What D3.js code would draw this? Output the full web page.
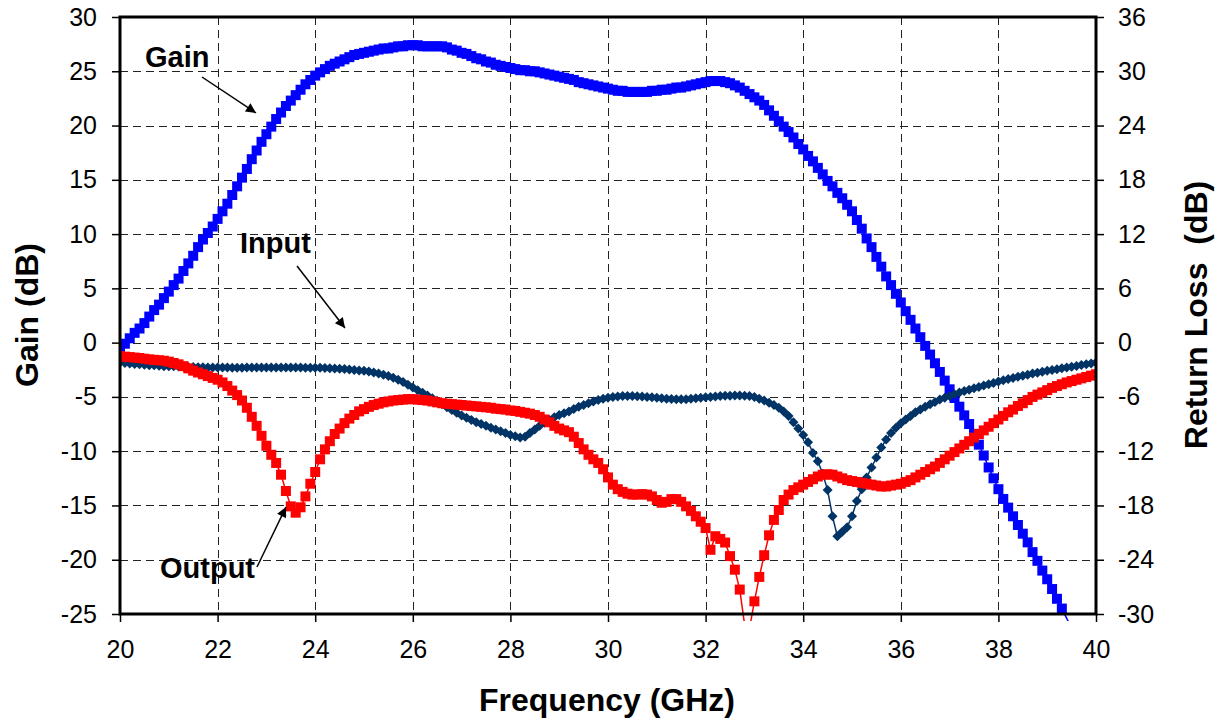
<!DOCTYPE html>
<html lang="en">
<head>
<meta charset="UTF-8">
<title>Gain and Return Loss vs Frequency</title>
<style>
    body { margin: 0; background: #fff; }
    svg { display: block; font-family: "Liberation Sans", Arial, sans-serif; }
    .tick text { font-size: 25px; fill: #000; }
    .title { font-size: 32px; font-weight: bold; white-space: pre; }
    .note { font-size: 29px; font-weight: bold; }
</style>
</head>
<body>
<svg width="1219" height="723"></svg>
<script src="https://d3js.org/d3.v7.min.js"></script>
<script>
// frequency points (GHz)
const freq = [
    20.0, 20.1, 20.2, 20.3, 20.4, 20.5, 20.6, 20.7, 20.8, 20.9,
    21.0, 21.1, 21.2, 21.3, 21.4, 21.5, 21.6, 21.7, 21.8, 21.9,
    22.0, 22.1, 22.2, 22.3, 22.4, 22.5, 22.6, 22.7, 22.8, 22.9,
    23.0, 23.1, 23.2, 23.3, 23.4, 23.5, 23.6, 23.7, 23.8, 23.9,
    24.0, 24.1, 24.2, 24.3, 24.4, 24.5, 24.6, 24.7, 24.8, 24.9,
    25.0, 25.1, 25.2, 25.3, 25.4, 25.5, 25.6, 25.7, 25.8, 25.9,
    26.0, 26.1, 26.2, 26.3, 26.4, 26.5, 26.6, 26.7, 26.8, 26.9,
    27.0, 27.1, 27.2, 27.3, 27.4, 27.5, 27.6, 27.7, 27.8, 27.9,
    28.0, 28.1, 28.2, 28.3, 28.4, 28.5, 28.6, 28.7, 28.8, 28.9,
    29.0, 29.1, 29.2, 29.3, 29.4, 29.5, 29.6, 29.7, 29.8, 29.9,
    30.0, 30.1, 30.2, 30.3, 30.4, 30.5, 30.6, 30.7, 30.8, 30.9,
    31.0, 31.1, 31.2, 31.3, 31.4, 31.5, 31.6, 31.7, 31.8, 31.9,
    32.0, 32.1, 32.2, 32.3, 32.4, 32.5, 32.6, 32.7, 32.8, 32.9,
    33.0, 33.1, 33.2, 33.3, 33.4, 33.5, 33.6, 33.7, 33.8, 33.9,
    34.0, 34.1, 34.2, 34.3, 34.4, 34.5, 34.6, 34.7, 34.8, 34.9,
    35.0, 35.1, 35.2, 35.3, 35.4, 35.5, 35.6, 35.7, 35.8, 35.9,
    36.0, 36.1, 36.2, 36.3, 36.4, 36.5, 36.6, 36.7, 36.8, 36.9,
    37.0, 37.1, 37.2, 37.3, 37.4, 37.5, 37.6, 37.7, 37.8, 37.9,
    38.0, 38.1, 38.2, 38.3, 38.4, 38.5, 38.6, 38.7, 38.8, 38.9,
    39.0, 39.1, 39.2, 39.3, 39.4, 39.5, 39.6, 39.7, 39.8, 39.9,
    40.0
];

// gain, dB (left axis)
const gain = [
    -0.6, -0.1, 0.4, 0.9, 1.3, 1.8, 2.4, 3.0, 3.5, 4.1,
    4.7, 5.3, 5.9, 6.6, 7.3, 8.0, 8.8, 9.5, 10.1, 10.7,
    11.4, 12.1, 12.8, 13.6, 14.4, 15.2, 16.0, 16.9, 17.7, 18.5,
    19.2, 19.9, 20.6, 21.2, 21.8, 22.3, 22.8, 23.3, 23.8, 24.2,
    24.6, 24.9, 25.2, 25.5, 25.7, 25.9, 26.1, 26.3, 26.5, 26.6,
    26.7, 26.8, 26.9, 27.0, 27.1, 27.1, 27.2, 27.3, 27.3, 27.4,
    27.4, 27.4, 27.3, 27.3, 27.3, 27.3, 27.3, 27.2, 27.0, 26.9,
    26.7, 26.6, 26.4, 26.2, 26.1, 25.9, 25.8, 25.6, 25.5, 25.4,
    25.3, 25.2, 25.1, 25.1, 25.0, 25.0, 24.9, 24.8, 24.7, 24.6,
    24.5, 24.4, 24.3, 24.2, 24.0, 23.9, 23.8, 23.7, 23.6, 23.5,
    23.4, 23.3, 23.2, 23.2, 23.1, 23.1, 23.1, 23.1, 23.1, 23.2,
    23.2, 23.3, 23.3, 23.4, 23.5, 23.5, 23.6, 23.7, 23.8, 23.9,
    24.0, 24.1, 24.1, 24.1, 24.0, 23.9, 23.7, 23.5, 23.2, 22.9,
    22.6, 22.3, 21.9, 21.4, 20.9, 20.4, 19.9, 19.4, 18.9, 18.3,
    17.8, 17.2, 16.7, 16.1, 15.5, 14.9, 14.4, 13.8, 13.3, 12.7,
    12.1, 11.3, 10.5, 9.6, 8.8, 7.9, 7.0, 6.1, 5.3, 4.5,
    3.7, 2.9, 2.1, 1.3, 0.5, -0.3, -1.1, -1.9, -2.7, -3.5,
    -4.3, -5.1, -5.9, -6.7, -7.5, -8.4, -9.4, -10.4, -11.5, -12.5,
    -13.5, -14.4, -15.2, -16.0, -16.8, -17.6, -18.4, -19.3, -20.1, -21.0,
    -21.8, -22.7, -23.6, -24.5, -25.4, -26.3, -27.2, -28.1, -29.0, -29.9,
    -30.8
];

// input return loss, dB (right axis)
const inputRL = [
    -2.2, -2.25, -2.3, -2.35, -2.4, -2.45, -2.5, -2.5, -2.55, -2.6,
    -2.6, -2.62, -2.65, -2.67, -2.7, -2.7, -2.72, -2.73, -2.75, -2.75,
    -2.75, -2.76, -2.76, -2.77, -2.77, -2.77, -2.76, -2.76, -2.75, -2.75,
    -2.75, -2.74, -2.74, -2.74, -2.75, -2.75, -2.76, -2.76, -2.77, -2.77,
    -2.77, -2.78, -2.8, -2.82, -2.85, -2.88, -2.92, -2.97, -3.02, -3.07,
    -3.12, -3.2, -3.3, -3.42, -3.55, -3.7, -3.88, -4.1, -4.35, -4.65,
    -4.95, -5.25, -5.55, -5.85, -6.15, -6.45, -6.8, -7.15, -7.45, -7.75,
    -8.05, -8.3, -8.55, -8.8, -9.0, -9.2, -9.4, -9.6, -9.8, -10.0,
    -10.2, -10.35, -10.5, -10.4, -10.0, -9.6, -9.2, -8.85, -8.55, -8.25,
    -8.0, -7.8, -7.6, -7.35, -7.1, -6.9, -6.7, -6.5, -6.35, -6.2,
    -6.1, -6.0, -5.95, -5.9, -5.9, -5.9, -5.92, -5.95, -6.0, -6.05,
    -6.1, -6.15, -6.2, -6.22, -6.25, -6.26, -6.25, -6.2, -6.15, -6.1,
    -6.05, -6.0, -5.95, -5.9, -5.88, -5.86, -5.85, -5.85, -5.87, -5.9,
    -6.0, -6.2, -6.4, -6.65, -6.9, -7.2, -7.6, -8.1, -8.8, -9.5,
    -10.2, -11.0, -12.2, -13.1, -14.5, -16.3, -19.2, -21.4, -20.9, -20.4,
    -19.2, -17.5, -16.2, -14.9, -13.8, -12.7, -11.6, -10.7, -10.0, -9.4,
    -8.9, -8.5, -8.1, -7.7, -7.4, -7.1, -6.8, -6.55, -6.3, -6.1,
    -5.9, -5.7, -5.5, -5.35, -5.2, -5.05, -4.9, -4.75, -4.6, -4.45,
    -4.3, -4.15, -4.02, -3.9, -3.78, -3.66, -3.54, -3.42, -3.32, -3.22,
    -3.12, -3.02, -2.93, -2.84, -2.75, -2.66, -2.57, -2.48, -2.39, -2.3,
    -2.2
];

// output return loss, dB (right axis)
const outputRL = [
    -1.5, -1.55, -1.6, -1.65, -1.7, -1.78, -1.85, -1.9, -1.95, -2.0,
    -2.1, -2.25, -2.4, -2.6, -2.85, -3.1, -3.3, -3.5, -3.7, -3.9,
    -4.1, -4.4, -4.8, -5.3, -5.8, -6.4, -7.2, -8.2, -9.2, -10.3,
    -11.4, -12.4, -13.3, -14.6, -16.4, -18.1, -18.8, -18.2, -17.0, -15.6,
    -14.3, -12.9, -11.8, -10.9, -10.1, -9.5, -8.9, -8.4, -8.0, -7.6,
    -7.35, -7.1, -6.9, -6.75, -6.6, -6.5, -6.4, -6.35, -6.3, -6.25,
    -6.25, -6.3, -6.35, -6.4, -6.5, -6.6, -6.7, -6.75, -6.8, -6.85,
    -6.9, -6.95, -7.0, -7.05, -7.1, -7.15, -7.2, -7.3, -7.35, -7.4,
    -7.5, -7.55, -7.65, -7.75, -7.85, -8.0, -8.2, -8.5, -8.8, -9.2,
    -9.5, -9.7, -9.9, -10.4, -11.1, -11.8, -12.4, -12.9, -13.3, -14.0,
    -14.9, -15.7, -16.2, -16.5, -16.7, -16.8, -16.8, -16.75, -16.8, -17.0,
    -17.4, -17.7, -17.6, -17.3, -17.3, -17.6, -18.1, -18.6, -19.2, -19.8,
    -20.5, -22.9, -21.4, -21.7, -22.1, -23.6, -25.1, -27.3, -31.2, -31.6,
    -28.6, -25.9, -23.5, -21.3, -19.6, -18.5, -17.4, -16.8, -16.3, -16.0,
    -15.7, -15.4, -15.1, -14.8, -14.6, -14.55, -14.6, -14.8, -15.0, -15.2,
    -15.3, -15.4, -15.5, -15.6, -15.7, -15.8, -15.9, -15.9, -15.8, -15.7,
    -15.6, -15.4, -15.2, -14.9, -14.6, -14.3, -14.0, -13.7, -13.3, -12.9,
    -12.5, -12.1, -11.7, -11.3, -10.9, -10.5, -10.1, -9.7, -9.3, -8.9,
    -8.5, -8.1, -7.7, -7.4, -7.0, -6.7, -6.35, -6.0, -5.75, -5.5,
    -5.25, -5.0, -4.8, -4.6, -4.4, -4.25, -4.1, -3.95, -3.8, -3.65,
    -3.5
];

const freqTicks = [20, 22, 24, 26, 28, 30, 32, 34, 36, 38, 40];
const gainTicks = [-25, -20, -15, -10, -5, 0, 5, 10, 15, 20, 25, 30];
const rlTicks = [-30, -24, -18, -12, -6, 0, 6, 12, 18, 24, 30, 36];

const svg = d3.select("svg");
const pLeft = 120, pRight = 1096, pTop = 17, pBottom = 614;

const x = d3.scaleLinear().domain([20, 40]).range([pLeft, pRight]);
const yGain = d3.scaleLinear().domain([-25, 30]).range([pBottom, pTop]);
const yRL = d3.scaleLinear().domain([-30, 36]).range([pBottom, pTop]);

svg.append("rect").attr("width", 1219).attr("height", 723).attr("fill", "#fff");

const defs = svg.append("defs");
defs.append("clipPath").attr("id", "clipLine")
    .append("rect").attr("x", pLeft).attr("y", pTop).attr("width", pRight - pLeft).attr("height", pBottom - pTop + 7);
defs.append("clipPath").attr("id", "clipMark")
    .append("rect").attr("x", pLeft).attr("y", pTop).attr("width", pRight - pLeft).attr("height", pBottom - pTop);
defs.append("marker").attr("id", "arrow")
    .attr("viewBox", "0 0 10 10").attr("refX", 10).attr("refY", 5)
    .attr("markerWidth", 14).attr("markerHeight", 10).attr("markerUnits", "userSpaceOnUse")
    .attr("orient", "auto")
    .append("path").attr("d", "M0,0 L10,5 L0,10 Z").attr("fill", "#000");

// grid
const grid = svg.append("g").attr("stroke", "#222").attr("stroke-width", 1).attr("stroke-dasharray", "8,5");
grid.selectAll(".gx").data(freqTicks.slice(1, -1)).join("line")
    .attr("x1", d => Math.round(x(d)) + 0.5).attr("x2", d => Math.round(x(d)) + 0.5)
    .attr("y1", pTop).attr("y2", pBottom);
grid.selectAll(".gy").data(gainTicks.slice(1, -1)).join("line")
    .attr("x1", pLeft).attr("x2", pRight)
    .attr("y1", d => Math.round(yGain(d)) + 0.5).attr("y2", d => Math.round(yGain(d)) + 0.5);

// axes
const plain = d => String(d);  // hyphen minus, like the original
const axisStyle = g => {
    g.select(".domain").remove();
    g.selectAll(".tick line").attr("stroke", "#000").attr("stroke-width", 1.5);
    g.selectAll(".tick text").attr("font-family", "Liberation Sans, Arial, sans-serif");
};
svg.append("g").attr("transform", `translate(${pLeft},0)`)
    .call(d3.axisLeft(yGain).tickValues(gainTicks).tickFormat(plain).tickSize(8).tickPadding(15))
    .call(axisStyle);
svg.append("g").attr("transform", `translate(${pRight},0)`)
    .call(d3.axisRight(yRL).tickValues(rlTicks).tickFormat(plain).tickSize(8).tickPadding(14))
    .call(axisStyle);
svg.append("g").attr("transform", `translate(0,${pBottom})`)
    .call(d3.axisBottom(x).tickValues(freqTicks).tickFormat(plain).tickSize(8).tickPadding(18))
    .call(axisStyle);

// series
const series = [
    {name: "Gain", values: gain, y: yGain, color: "#0000FF", shape: "square", size: 10},
    {name: "Input", values: inputRL, y: yRL, color: "#003366", shape: "diamond", size: 10},
    {name: "Output", values: outputRL, y: yRL, color: "#FF0000", shape: "square", size: 10}
];

series.forEach(s => {
    const pts = freq.map((f, i) => ({f: f, v: s.values[i]}));
    const line = d3.line().x(d => x(d.f)).y(d => s.y(d.v));
    svg.append("path").datum(pts)
        .attr("clip-path", "url(#clipLine)")
        .attr("fill", "none").attr("stroke", s.color).attr("stroke-width", 1.5)
        .attr("d", line);
    const h = s.size / 2;
    const shapePath = s.shape === "square"
        ? `M${-h},${-h}h${s.size}v${s.size}h${-s.size}Z`
        : `M0,${-h}L${h},0L0,${h}L${-h},0Z`;
    svg.append("g").attr("clip-path", "url(#clipMark)")
        .selectAll("path").data(pts).join("path")
        .attr("transform", d => `translate(${x(d.f)},${s.y(d.v)})`)
        .attr("d", shapePath)
        .attr("fill", s.color);
});

// frame
svg.append("rect").attr("x", pLeft).attr("y", pTop)
    .attr("width", pRight - pLeft).attr("height", pBottom - pTop)
    .attr("fill", "none").attr("stroke", "#000").attr("stroke-width", 3);

// titles
svg.append("text").attr("class", "title")
    .attr("transform", "translate(38,315) rotate(-90)")
    .attr("text-anchor", "middle").text("Gain (dB)");
svg.append("text").attr("class", "title")
    .attr("transform", "translate(1207,315) rotate(-90)")
    .attr("text-anchor", "middle").text("Return Loss  (dB)");
svg.append("text").attr("class", "title")
    .attr("x", 607).attr("y", 711)
    .attr("text-anchor", "middle").text("Frequency (GHz)");

// annotations
const notes = [
    {text: "Gain", tx: 145, ty: 67, from: [202, 77], to: [256, 113]},
    {text: "Input", tx: 240, ty: 253, from: [297, 266], to: [345, 328]},
    {text: "Output", tx: 160, ty: 578, from: [257, 567], to: [286, 507]}
];
notes.forEach(n => {
    svg.append("text").attr("class", "note").attr("x", n.tx).attr("y", n.ty).text(n.text);
    svg.append("line")
        .attr("x1", n.from[0]).attr("y1", n.from[1]).attr("x2", n.to[0]).attr("y2", n.to[1])
        .attr("stroke", "#000").attr("stroke-width", 1.5).attr("marker-end", "url(#arrow)");
});
</script>
</body>
</html>
